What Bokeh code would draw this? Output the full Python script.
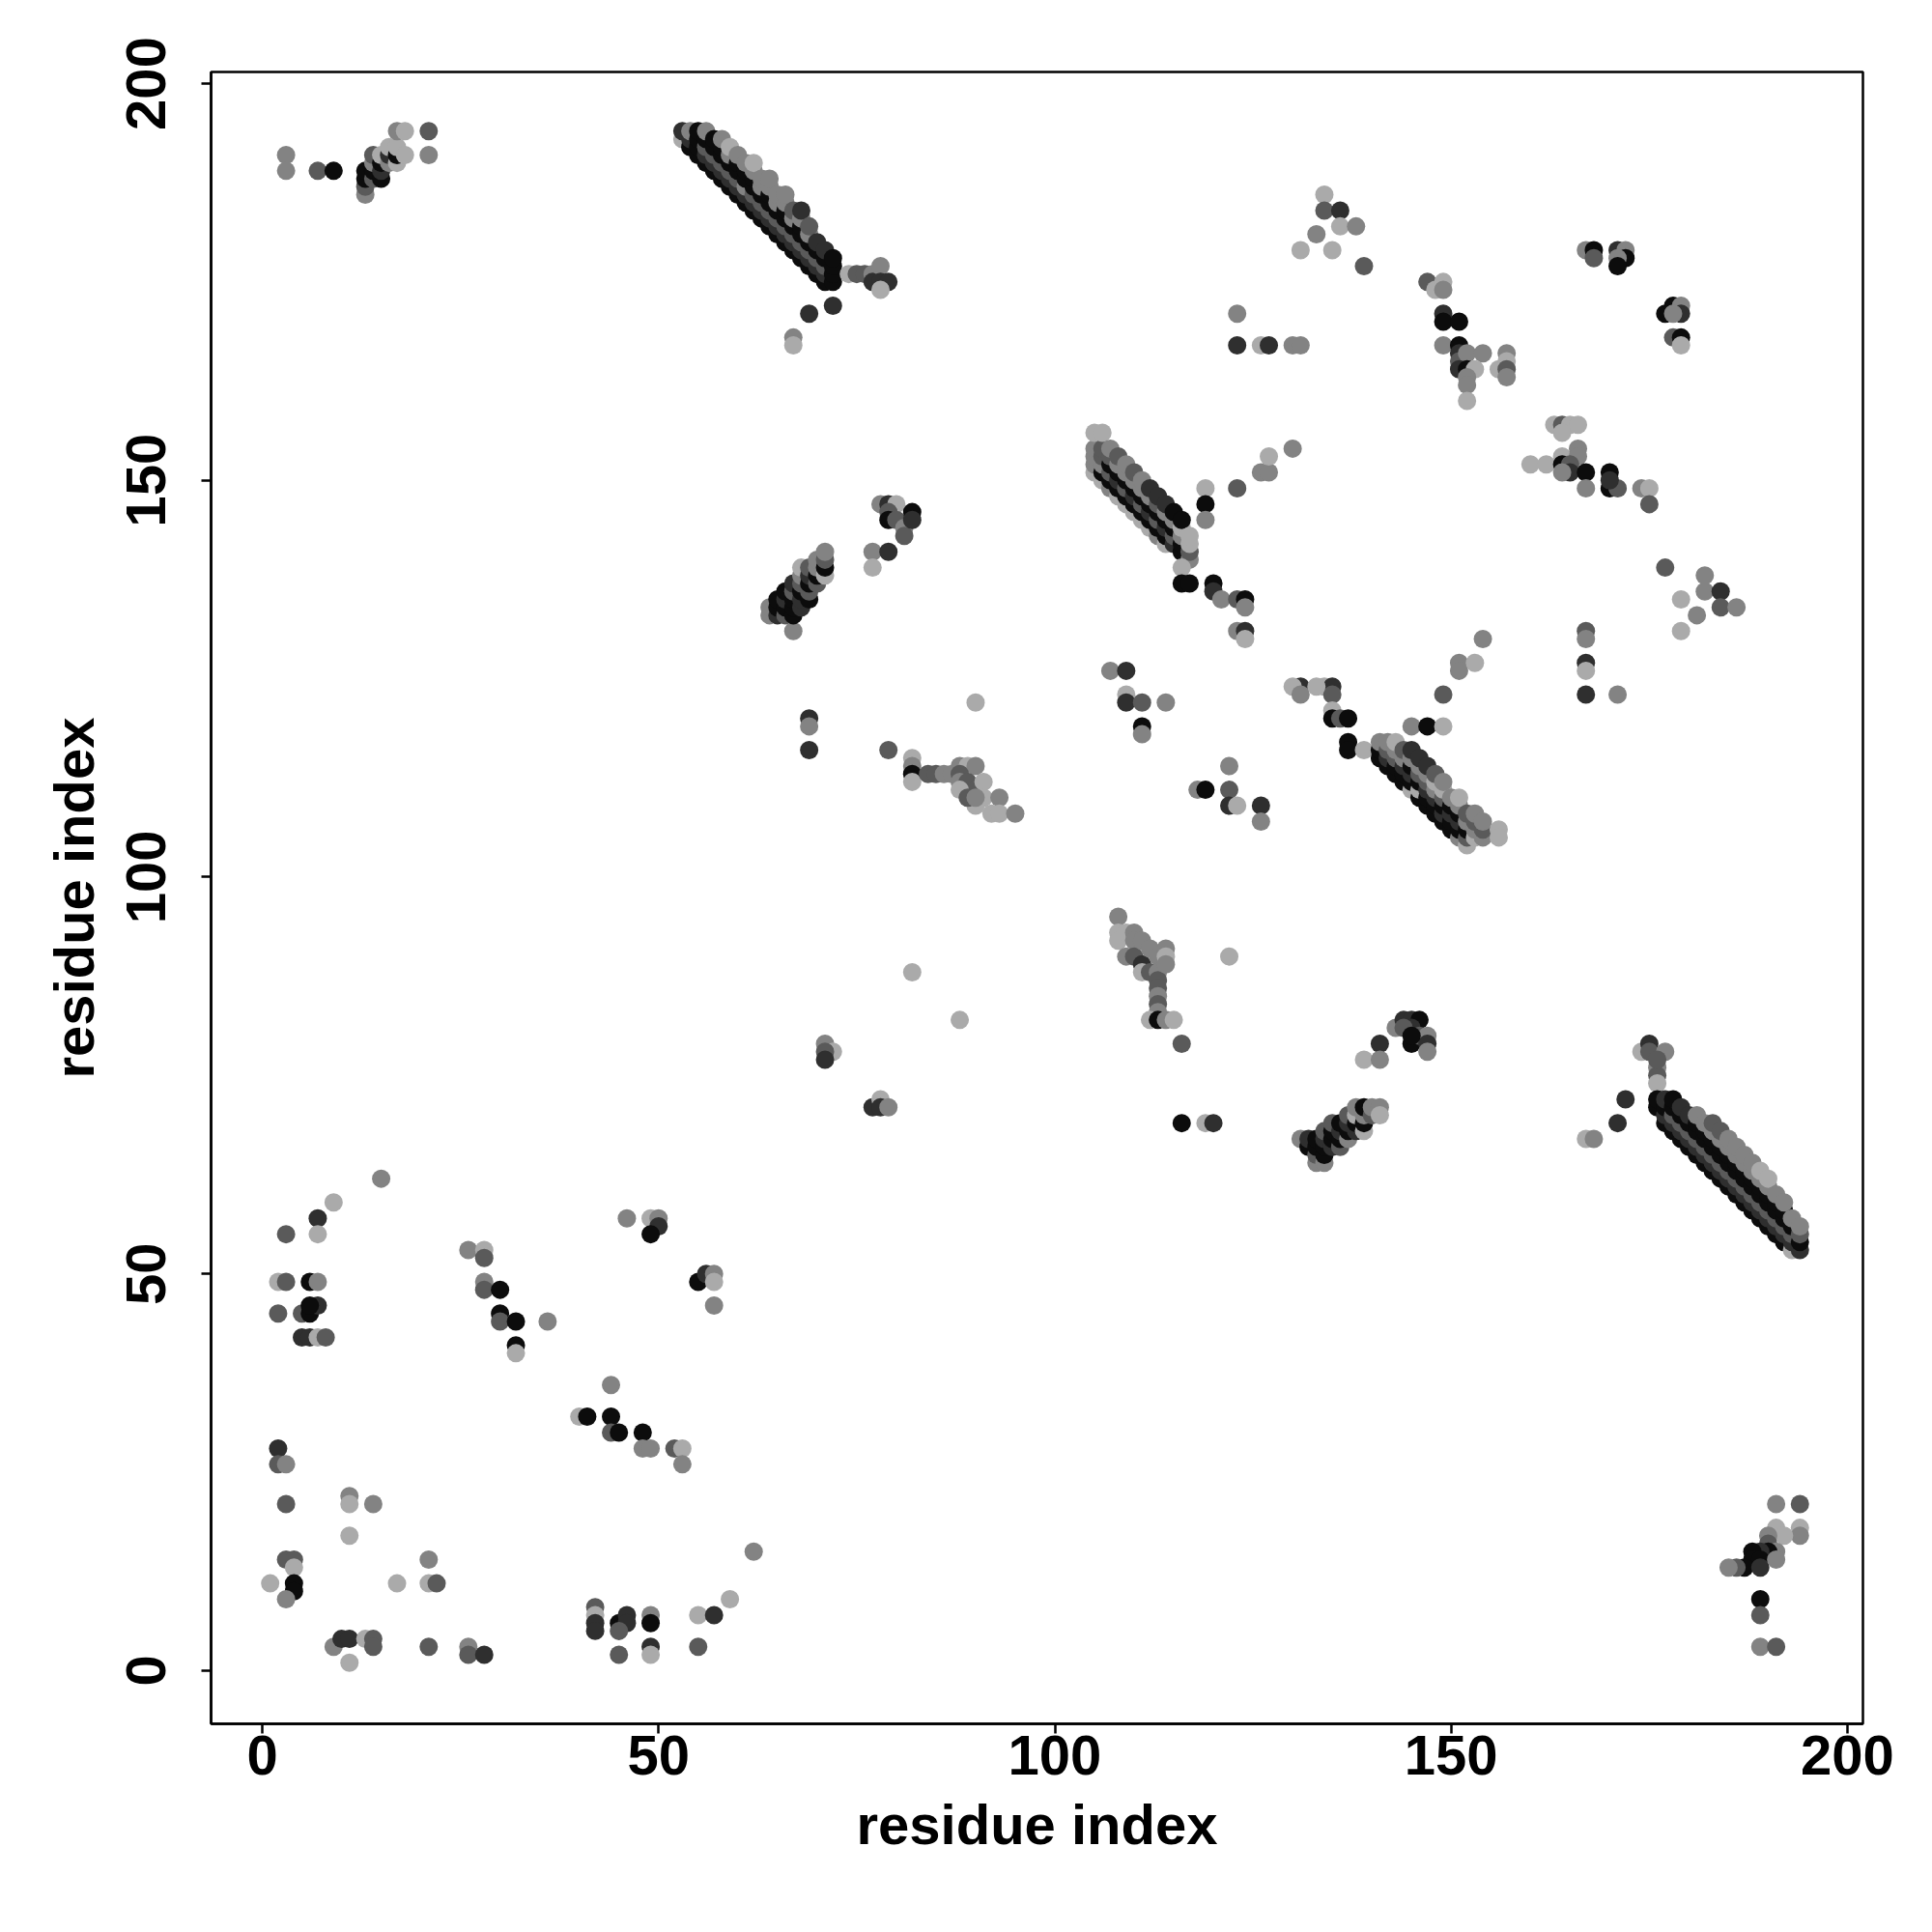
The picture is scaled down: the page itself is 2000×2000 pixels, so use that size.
from bokeh.plotting import figure
from bokeh.models import Range1d, FixedTicker, ColumnDataSource
from bokeh.embed import file_html
from bokeh.resources import INLINE

# ---------------- data ----------------
# shade index: 0 = black ... 4 = light grey
SHADES = ["#0c0c0c", "#2f2f2f", "#5a5a5a", "#838383", "#aaaaaa"]

# top-left small cluster
tl_x = [3, 3, 7, 9, 13, 13, 13, 13, 14, 14, 14, 14, 15, 15, 15, 15, 16, 16, 16, 17, 17, 17, 17, 18, 18, 21, 21]
tl_y = [191, 189, 189, 189, 186, 187, 188, 189, 188, 189, 190, 191, 188, 189, 190, 191, 190, 191, 192, 190, 191, 192, 194, 191, 194, 191, 194]
tl_g = [3, 3, 2, 0, 3, 2, 0, 0, 2, 0, 3, 2, 0, 1, 0, 4, 3, 1, 4, 4, 0, 4, 3, 4, 4, 3, 2]

# top anti-parallel band (x 53-72)
tb_x = [53, 53,
        54, 54, 54,
        55, 55, 55, 55,
        56, 56, 56, 56, 56,
        57, 57, 57, 57, 57,
        58, 58, 58, 58, 58, 58,
        59, 59, 59, 59, 59, 59,
        60, 60, 60, 60, 60, 60,
        61, 61, 61, 61, 61, 61,
        62, 62, 62, 62, 62, 62, 62,
        63, 63, 63, 63, 63, 63,
        64, 64, 64, 64, 64, 64, 64,
        65, 65, 65, 65, 65, 65,
        66, 66, 66, 66, 66, 66, 66,
        67, 67, 67, 67, 67, 67,
        68, 68, 68, 68, 68, 68, 68,
        69, 69, 69, 69, 69, 69,
        70, 70, 70, 70, 70,
        71, 71, 71, 71, 71,
        72, 72, 72, 72]
tb_y = [193, 194,
        192, 193, 194,
        191, 192, 193, 194,
        190, 191, 192, 193, 194,
        189, 190, 191, 192, 193,
        188, 189, 190, 191, 192, 193,
        187, 188, 189, 190, 191, 192,
        186, 187, 188, 189, 190, 191,
        185, 186, 187, 188, 189, 190,
        184, 185, 186, 187, 188, 189, 190,
        183, 184, 185, 186, 187, 188,
        182, 183, 184, 185, 186, 187, 188,
        181, 182, 183, 184, 185, 186,
        180, 181, 182, 183, 184, 185, 186,
        179, 180, 181, 182, 183, 184,
        178, 179, 180, 181, 182, 183, 184,
        177, 178, 179, 180, 181, 182,
        176, 177, 178, 179, 180,
        175, 176, 177, 178, 179,
        175, 176, 177, 178]
tb_g = [4, 1,
        0, 1, 3,
        0, 0, 0, 0,
        0, 1, 2, 0, 3,
        0, 1, 2, 0, 0,
        0, 1, 2, 0, 0, 3,
        0, 1, 2, 0, 3, 4,
        0, 1, 2, 0, 0, 3,
        0, 1, 3, 0, 0, 3,
        0, 1, 2, 0, 0, 3, 4,
        0, 1, 2, 0, 3, 3,
        0, 1, 2, 0, 0, 3, 3,
        0, 1, 2, 0, 3, 3,
        0, 1, 2, 0, 0, 3, 3,
        0, 1, 2, 0, 3, 2,
        0, 1, 2, 0, 0, 3, 1,
        0, 1, 2, 0, 3, 2,
        0, 1, 2, 0, 1,
        0, 1, 2, 0, 1,
        0, 0, 0, 0]

# tail and satellites of the top band
tt_x = [74, 75, 76, 77, 77, 78, 78, 79, 78, 69, 72, 67, 67]
tt_y = [176, 176, 176, 176, 175, 177, 175, 175, 174, 171, 172, 168, 167]
tt_g = [4, 2, 2, 3, 1, 3, 1, 1, 4, 1, 1, 3, 4]

# row near y=167-171, x 123-131
mt_x = [123, 123, 126, 127, 130, 131]
mt_y = [171, 167, 167, 167, 167, 167]
mt_g = [3, 1, 4, 1, 3, 3]

c134_x = [134, 134, 136, 133, 136, 138, 131, 135, 139]
c134_y = [186, 184, 184, 181, 182, 182, 179, 179, 177]
c134_g = [4, 2, 1, 3, 4, 3, 4, 4, 2]

c150_x = [147, 148, 149, 149, 149, 149, 151, 149, 151, 151, 151, 152, 154, 151, 152, 153, 152, 152, 152, 156, 157, 157, 157, 157]
c150_y = [175, 174, 175, 174, 171, 170, 170, 167, 167, 166, 165, 166, 166, 164, 164, 164, 163, 162, 160, 164, 166, 165, 164, 163]
c150_g = [2, 4, 4, 3, 1, 0, 0, 3, 0, 1, 2, 3, 3, 1, 0, 4, 3, 3, 4, 4, 3, 4, 2, 3]

c170_x = [167, 168, 168, 171, 172, 172, 171, 171, 177, 178, 179, 179, 178, 178, 179, 179]
c170_y = [179, 179, 178, 179, 179, 178, 178, 177, 171, 172, 172, 171, 171, 168, 168, 167]
c170_g = [3, 0, 2, 1, 3, 0, 3, 0, 0, 0, 3, 1, 3, 2, 0, 4]

c160_x = [163, 164, 165, 166, 164, 160, 162, 164, 166, 166, 164, 165, 165, 167, 164, 167, 170, 170, 171, 170, 174, 175, 175]
c160_y = [157, 157, 157, 157, 156, 152, 152, 153, 154, 153, 152, 152, 151, 151, 151, 149, 151, 149, 149, 150, 149, 149, 147]
c160_g = [4, 2, 4, 4, 4, 4, 4, 4, 3, 3, 0, 2, 1, 0, 3, 3, 0, 0, 2, 1, 3, 4, 2]

c180_x = [177, 182, 182, 184, 184, 186, 181, 179, 179]
c180_y = [139, 138, 136, 136, 134, 134, 133, 135, 131]
c180_g = [2, 3, 3, 1, 2, 3, 3, 4, 4]

c167_x = [167, 167, 167, 167, 167, 171, 154, 151, 151, 153, 149]
c167_y = [131, 130, 127, 126, 123, 123, 130, 127, 126, 127, 123]
c167_g = [2, 3, 1, 4, 1, 3, 3, 3, 3, 4, 2]

# band x 105-117, y 140-156
b2_x = [105, 105, 105, 105, 105,
        106, 106, 106, 106, 106, 106,
        107, 107, 107, 107, 107, 107,
        108, 108, 108, 108, 108, 108,
        109, 109, 109, 109, 109, 109,
        110, 110, 110, 110, 110, 110,
        111, 111, 111, 111, 111, 111,
        112, 112, 112, 112, 112, 112,
        113, 113, 113, 113, 113, 113,
        114, 114, 114, 114, 114, 114,
        115, 115, 115, 115, 115,
        116, 116, 116, 116, 116,
        117, 117, 117, 117]
b2_y = [151, 152, 153, 154, 156,
        150, 151, 152, 153, 154, 156,
        149, 150, 151, 152, 153, 154,
        148, 149, 150, 151, 152, 153,
        147, 148, 149, 150, 151, 152,
        146, 147, 148, 149, 150, 151,
        145, 146, 147, 148, 149, 150,
        144, 145, 146, 147, 148, 149,
        143, 144, 145, 146, 147, 148,
        142, 143, 144, 145, 146, 147,
        142, 143, 144, 145, 146,
        141, 142, 143, 144, 145,
        140, 141, 142, 143]
b2_g = [4, 3, 3, 3, 4,
        4, 0, 3, 2, 2, 4,
        3, 0, 2, 0, 2, 3,
        4, 0, 1, 0, 3, 2,
        4, 0, 2, 0, 3, 3,
        4, 0, 1, 0, 3, 2,
        4, 0, 2, 0, 3, 3,
        4, 0, 1, 0, 3, 1,
        3, 0, 2, 0, 2, 1,
        4, 0, 1, 0, 3, 1,
        1, 2, 0, 3, 0,
        0, 0, 3, 4, 0,
        3, 2, 4, 4]

s2_x = [119, 119, 119, 123, 126, 127, 127, 130, 116, 116, 117, 120, 120, 121, 123, 124, 124, 123, 124, 124]
s2_y = [149, 147, 145, 149, 151, 151, 153, 154, 139, 137, 137, 137, 136, 135, 135, 135, 134, 131, 131, 130]
s2_g = [4, 0, 3, 2, 3, 3, 4, 3, 4, 0, 0, 0, 1, 3, 2, 0, 3, 3, 1, 4]

# parallel band x 64-71, y 131-141
b3_x = [64, 64, 65, 65, 65, 66, 66, 66, 66, 67, 67, 67, 67, 67, 67, 68, 68, 68, 68, 68, 68, 69, 69, 69, 69, 69, 70, 70, 70, 70, 71, 71, 71, 71]
b3_y = [133, 134, 133, 134, 135, 133, 134, 135, 136, 131, 133, 134, 135, 136, 137, 134, 135, 136, 137, 138, 139, 135, 136, 137, 138, 139, 137, 138, 139, 140, 138, 139, 140, 141]
b3_g = [3, 3, 1, 0, 0, 2, 0, 1, 0, 3, 0, 0, 0, 2, 1, 1, 1, 0, 2, 3, 4, 0, 2, 0, 1, 2, 2, 0, 3, 3, 4, 0, 2, 3]

c80_x = [78, 79, 80, 79, 79, 80, 81, 81, 82, 82, 77, 79, 77]
c80_y = [147, 147, 147, 146, 145, 145, 144, 143, 146, 145, 141, 141, 139]
c80_g = [3, 1, 4, 2, 0, 2, 3, 2, 0, 1, 3, 1, 4]

c85_x = [69, 69, 69, 79, 82, 82, 82, 82, 84, 85, 86, 87, 88, 89, 90, 88, 88, 89, 90, 91, 91, 93, 92, 93, 95, 90, 88, 89, 90, 90]
c85_y = [120, 119, 116, 116, 115, 114, 113, 112, 113, 113, 113, 113, 114, 114, 114, 113, 112, 112, 111, 112, 110, 110, 108, 108, 108, 109, 111, 110, 110, 122]
c85_g = [1, 3, 1, 2, 4, 3, 0, 4, 2, 2, 3, 3, 3, 4, 3, 2, 3, 2, 2, 4, 4, 3, 4, 4, 3, 4, 4, 2, 3, 4]

c110_x = [107, 109, 109, 109, 111, 114, 111, 111, 122, 118, 119, 122, 122, 123, 126, 126, 131, 130, 131, 134]
c110_y = [126, 126, 123, 122, 122, 122, 119, 118, 114, 111, 111, 111, 109, 109, 109, 107, 124, 124, 123, 124]
c110_g = [3, 1, 4, 1, 2, 3, 0, 3, 3, 3, 0, 2, 1, 4, 1, 3, 1, 4, 3, 4]

c112_x = [108, 108, 108, 109, 109, 110, 110, 110, 111, 111, 111, 112, 112, 113, 113, 113, 113, 113, 113, 113, 114, 114, 114, 112, 113, 114, 115, 116, 122]
c112_y = [95, 93, 92, 93, 90, 93, 92, 90, 92, 89, 88, 91, 88, 90, 88, 87, 86, 85, 84, 83, 91, 90, 89, 82, 82, 82, 82, 79, 90]
c112_g = [3, 4, 4, 4, 3, 3, 3, 2, 3, 1, 4, 3, 2, 3, 3, 2, 2, 3, 2, 3, 3, 4, 3, 4, 0, 3, 4, 2, 4]

cmid_x = [82, 88, 71, 72, 71, 71, 77, 78, 78, 79, 116, 119, 120]
cmid_y = [88, 82, 79, 78, 78, 77, 71, 72, 71, 71, 69, 69, 69]
cmid_g = [4, 4, 3, 4, 2, 1, 1, 4, 1, 3, 0, 4, 1]

c135_x = [135, 135, 133, 135, 135, 136, 137, 137, 137, 139, 145, 147, 149]
c135_y = [124, 123, 124, 121, 120, 120, 120, 117, 116, 116, 119, 119, 119]
c135_g = [1, 2, 4, 4, 0, 2, 0, 0, 0, 4, 3, 0, 4]

# band x 141-156, y 104-117
b4_x = [141, 141, 141,
        142, 142, 142, 142,
        143, 143, 143, 143, 143,
        144, 144, 144, 144, 144,
        145, 145, 145, 145, 145, 145,
        146, 146, 146, 146, 146, 146,
        147, 147, 147, 147, 147, 147,
        148, 148, 148, 148, 148, 148,
        149, 149, 149, 149, 149, 149,
        150, 150, 150, 150, 150,
        151, 151, 151, 151, 151, 151,
        152, 152, 152, 152, 152,
        153, 153, 153, 153,
        154, 154, 154,
        156, 156]
b4_y = [115, 116, 117,
        114, 115, 116, 117,
        113, 114, 115, 116, 117,
        112, 113, 114, 115, 116,
        111, 112, 113, 114, 115, 116,
        110, 111, 112, 113, 114, 115,
        109, 110, 111, 112, 113, 114,
        108, 109, 110, 111, 112, 113,
        107, 108, 109, 110, 111, 112,
        106, 107, 108, 109, 110,
        105, 106, 107, 108, 109, 110,
        104, 105, 106, 107, 108,
        105, 106, 107, 108,
        105, 106, 107,
        106, 105]
b4_g = [0, 0, 3,
        0, 1, 2, 3,
        0, 0, 2, 3, 4,
        0, 0, 1, 3, 2,
        4, 0, 1, 0, 3, 1,
        0, 4, 0, 2, 3, 1,
        0, 0, 1, 2, 3, 1,
        0, 0, 1, 3, 4, 2,
        0, 1, 0, 2, 4, 3,
        0, 0, 1, 0, 3,
        3, 0, 1, 0, 3, 4,
        4, 2, 0, 3, 2,
        4, 3, 2, 3,
        3, 2, 3,
        4, 4]

c145_x = [143, 144, 145, 146, 145, 144, 145, 146, 147, 147, 147, 145, 141, 139, 141]
c145_y = [81, 82, 82, 82, 81, 81, 79, 80, 80, 79, 78, 80, 79, 77, 77]
c145_g = [3, 1, 1, 0, 1, 2, 0, 2, 3, 1, 3, 0, 1, 4, 3]

# parallel band x 131-141, y 64-71
b5_x = [131, 132, 132, 133, 133, 133, 133, 134, 134, 134, 134, 134, 135, 135, 135, 135, 136, 136, 136, 136, 137, 137, 137, 137, 138, 138, 138, 138, 139, 139, 139, 139, 140, 140, 141, 141]
b5_y = [67, 66, 67, 64, 65, 66, 67, 64, 65, 66, 67, 68, 66, 67, 68, 69, 66, 67, 68, 69, 67, 68, 69, 70, 68, 69, 70, 71, 68, 69, 70, 71, 70, 71, 71, 70]
b5_g = [3, 0, 1, 3, 2, 0, 0, 3, 0, 0, 1, 2, 1, 0, 0, 2, 2, 0, 1, 0, 3, 0, 1, 2, 1, 0, 4, 3, 4, 0, 3, 0, 2, 3, 3, 4]

c170b_x = [172, 171, 167, 168]
c170b_y = [72, 69, 67, 67]
c170b_g = [1, 1, 4, 3]

# lower-right anti-parallel band x 174-194, y 53-79
b6_x = [174, 175, 175, 176, 176, 176, 177, 176,
        176, 176,
        177, 177, 177, 177,
        178, 178, 178, 178, 178,
        179, 179, 179, 179, 179,
        180, 180, 180, 180, 180,
        181, 181, 181, 181, 181, 181,
        182, 182, 182, 182, 182, 182,
        183, 183, 183, 183, 183, 183, 183,
        184, 184, 184, 184, 184, 184, 184,
        185, 185, 185, 185, 185, 185, 185,
        186, 186, 186, 186, 186, 186, 186,
        187, 187, 187, 187, 187, 187, 187,
        188, 188, 188, 188, 188, 188, 188,
        189, 189, 189, 189, 189, 189, 189,
        190, 190, 190, 190, 190, 190, 190,
        191, 191, 191, 191, 191, 191,
        192, 192, 192, 192, 192, 192,
        193, 193, 193, 193, 193,
        194, 194, 194, 194]
b6_y = [78, 79, 78, 76, 75, 74, 78, 77,
        71, 72,
        69, 70, 71, 72,
        68, 69, 70, 71, 72,
        67, 68, 69, 70, 71,
        66, 67, 68, 69, 70,
        65, 66, 67, 68, 69, 70,
        64, 65, 66, 67, 68, 69,
        63, 64, 65, 66, 67, 68, 69,
        62, 63, 64, 65, 66, 67, 68,
        61, 62, 63, 64, 65, 66, 67,
        60, 61, 62, 63, 64, 65, 66,
        59, 60, 61, 62, 63, 64, 65,
        58, 59, 60, 61, 62, 63, 64,
        57, 58, 59, 60, 61, 62, 63,
        56, 57, 58, 59, 60, 61, 62,
        55, 56, 57, 58, 59, 60,
        54, 55, 56, 57, 58, 59,
        53, 54, 55, 56, 57,
        53, 54, 55, 56]
b6_g = [4, 1, 2, 3, 2, 4, 3, 2,
        0, 0,
        0, 1, 0, 1,
        0, 1, 2, 0, 0,
        0, 1, 2, 0, 1,
        0, 1, 2, 0, 1,
        0, 1, 2, 0, 0, 3,
        0, 1, 2, 0, 0, 3,
        0, 1, 2, 0, 0, 3, 2,
        0, 1, 2, 0, 0, 3, 2,
        0, 1, 2, 0, 0, 3, 3,
        0, 1, 2, 0, 0, 3, 3,
        0, 1, 2, 0, 0, 3, 3,
        0, 1, 2, 0, 0, 3, 3,
        0, 1, 2, 0, 0, 3, 4,
        0, 1, 2, 0, 0, 3, 4,
        0, 1, 2, 0, 0, 3,
        0, 1, 2, 0, 0, 3,
        4, 1, 2, 0, 3,
        1, 0, 2, 3]

# bottom-left clusters
bl1_x = [15, 9, 7, 7, 3, 2, 3, 6, 7, 2, 5, 6, 7, 6, 5, 6, 7, 8]
bl1_y = [62, 59, 57, 55, 55, 49, 49, 49, 49, 45, 45, 45, 46, 46, 42, 42, 42, 42]
bl1_g = [3, 4, 1, 4, 2, 4, 2, 0, 3, 2, 2, 0, 1, 0, 1, 1, 4, 2]

bl2_x = [26, 28, 28, 28, 28, 30, 30, 30, 32, 36, 32, 32]
bl2_y = [53, 53, 52, 49, 48, 48, 45, 44, 44, 44, 41, 40]
bl2_g = [3, 4, 2, 3, 2, 0, 0, 2, 0, 3, 0, 4]

bl3_x = [44, 40, 41, 44, 44, 45, 48, 48, 49, 52, 53, 53]
bl3_y = [36, 32, 32, 32, 30, 30, 30, 28, 28, 28, 28, 26]
bl3_g = [3, 4, 0, 0, 2, 0, 0, 3, 3, 2, 4, 3]

bl4_x = [46, 49, 50, 50, 49, 55, 56, 57, 57, 57]
bl4_y = [57, 57, 57, 56, 55, 49, 50, 50, 49, 46]
bl4_g = [3, 4, 3, 1, 0, 0, 1, 3, 4, 3]

bl5_x = [2, 2, 3, 3, 11, 11, 14, 11, 3, 4, 4, 4, 4, 3, 1, 17, 21, 21, 22]
bl5_y = [28, 26, 26, 21, 22, 21, 21, 17, 14, 14, 13, 11, 10, 9, 11, 11, 14, 11, 11]
bl5_g = [1, 2, 3, 2, 3, 4, 3, 4, 2, 2, 4, 0, 0, 3, 4, 4, 3, 4, 2]

bl6_x = [9, 10, 11, 13, 14, 14, 11, 21, 26, 26, 28]
bl6_y = [3, 4, 4, 4, 4, 3, 1, 3, 3, 2, 2]
bl6_g = [3, 1, 1, 4, 2, 2, 4, 2, 3, 2, 1]

bl7_x = [42, 42, 42, 42, 45, 46, 46, 45, 45, 49, 49, 49, 49, 55, 57, 59, 62, 55]
bl7_y = [8, 7, 6, 5, 6, 7, 6, 5, 2, 7, 6, 3, 2, 7, 7, 9, 15, 3]
bl7_g = [2, 4, 1, 1, 0, 1, 1, 2, 2, 3, 0, 1, 4, 4, 1, 4, 3, 2]

# bottom-right cluster
br_x = [191, 194, 191, 194, 194, 192, 190, 190, 191, 190, 189, 188, 188, 189, 187, 186, 185, 189, 191, 189, 189, 189, 191]
br_y = [21, 21, 18, 18, 17, 17, 17, 16, 15, 15, 15, 15, 14, 14, 13, 13, 13, 13, 14, 9, 7, 3, 3]
br_g = [3, 2, 4, 4, 3, 4, 3, 2, 3, 0, 1, 0, 0, 0, 0, 2, 3, 1, 3, 0, 2, 3, 2]

x_ticks = [0, 50, 100, 150, 200]
axis_title = "residue index"

# ---------------- assemble ----------------
clusters = [
    (tl_x, tl_y, tl_g), (tb_x, tb_y, tb_g), (tt_x, tt_y, tt_g), (mt_x, mt_y, mt_g),
    (c134_x, c134_y, c134_g), (c150_x, c150_y, c150_g), (c170_x, c170_y, c170_g),
    (c160_x, c160_y, c160_g), (c180_x, c180_y, c180_g), (c167_x, c167_y, c167_g),
    (b2_x, b2_y, b2_g), (s2_x, s2_y, s2_g), (b3_x, b3_y, b3_g), (c80_x, c80_y, c80_g),
    (c85_x, c85_y, c85_g), (c110_x, c110_y, c110_g), (c112_x, c112_y, c112_g),
    (cmid_x, cmid_y, cmid_g), (c135_x, c135_y, c135_g), (b4_x, b4_y, b4_g),
    (c145_x, c145_y, c145_g), (b5_x, b5_y, b5_g), (c170b_x, c170b_y, c170b_g),
    (b6_x, b6_y, b6_g), (bl1_x, bl1_y, bl1_g), (bl2_x, bl2_y, bl2_g),
    (bl3_x, bl3_y, bl3_g), (bl4_x, bl4_y, bl4_g), (bl5_x, bl5_y, bl5_g),
    (bl6_x, bl6_y, bl6_g), (bl7_x, bl7_y, bl7_g), (br_x, br_y, br_g),
]
xs, ys, cols = [], [], []
for cx, cy, cg in clusters:
    for a, b, g in zip(cx, cy, cg):
        xs.append(a)
        ys.append(b)
        cols.append(SHADES[g])

src = ColumnDataSource(dict(x=xs, y=ys, c=cols))

FONT = "Liberation Sans"
p = figure(frame_width=1710, frame_height=1710,
           x_range=Range1d(-6.46, 201.95), y_range=Range1d(-6.70, 201.46),
           output_backend="svg", toolbar_location=None,
           min_border_left=218, min_border_top=74,
           min_border_right=40, min_border_bottom=160)
p.background_fill_color = "white"
p.border_fill_color = "white"
p.grid.visible = False
p.outline_line_color = "black"
p.outline_line_width = 2.5

p.scatter("x", "y", source=src, size=19, fill_color="c", line_color=None)

for ax in (p.xaxis[0], p.yaxis[0]):
    ax.ticker = FixedTicker(ticks=x_ticks)
    ax.minor_tick_line_color = None
    ax.major_tick_in = 0
    ax.major_tick_out = 10
    ax.major_tick_line_width = 2.5
    ax.axis_line_width = 2.5
    ax.major_label_text_font = FONT
    ax.major_label_text_font_size = "58px"
    ax.major_label_text_font_style = "bold"
    ax.major_label_text_color = "black"
    ax.axis_label = axis_title
    ax.axis_label_text_font = FONT
    ax.axis_label_text_font_size = "58px"
    ax.axis_label_text_font_style = "bold"
    ax.axis_label_text_color = "black"

p.xaxis.major_label_standoff = 2
p.xaxis.axis_label_standoff = 16
p.yaxis.major_label_orientation = "vertical"
p.yaxis.major_label_standoff = 37
p.yaxis.axis_label_standoff = 20

open("out.html", "w").write(file_html(p, INLINE))
